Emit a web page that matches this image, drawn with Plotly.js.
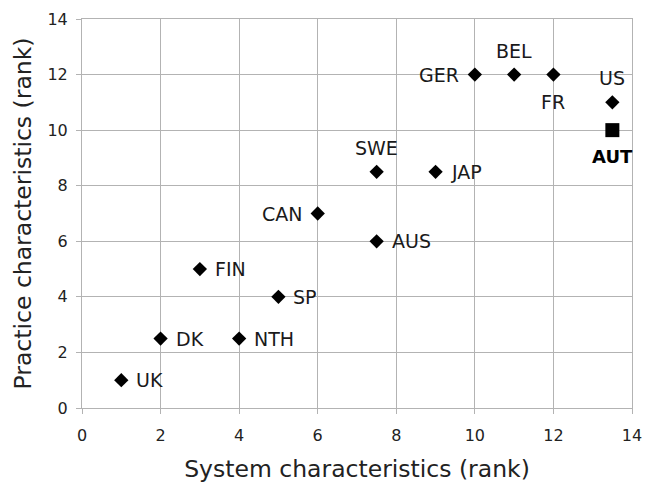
<!DOCTYPE html>
<html><head><meta charset="utf-8">
<script src="https://cdn.plot.ly/plotly-3.0.1.min.js"></script>
<style>html,body{margin:0;padding:0;background:#fff}#c{width:645px;height:484px}</style>
</head><body><div id="c"></div>
<script>
const countries = ["UK","DK","NTH","FIN","SP","CAN","AUS","SWE","JAP","GER","BEL","FR","US"];
const systemRank = [1,2,4,3,5,6,7.5,7.5,9,10,11,12,13.5];
const practiceRank = [1,2.5,2.5,5,4,7,6,8.5,8.5,12,12,12,11];
const labelSide = ["right","right","right","right","right","left","right","top","right","left","top","bottom","top"];
const autName = ["AUT"];
const autSystem = [13.5];
const autPractice = [10];
const autSide = ["bottom"];
const ticks = [0,2,4,6,8,10,12,14];

const font = "DejaVu Sans, Verdana, sans-serif";
const traces = [
  {x: systemRank, y: practiceRank, mode: "markers", type: "scatter",
   marker: {symbol: "diamond", size: 11, color: "#000"}, cliponaxis: false, hoverinfo: "none"},
  {x: autSystem, y: autPractice, mode: "markers", type: "scatter",
   marker: {symbol: "square", size: 14, color: "#000"}, cliponaxis: false, hoverinfo: "none"}
];
function place(side) {
  if (side === "right") return {xanchor: "left", yanchor: "middle", xshift: 13, yshift: 0};
  if (side === "left") return {xanchor: "right", yanchor: "middle", xshift: -14, yshift: 0};
  if (side === "top") return {xanchor: "center", yanchor: "bottom", xshift: 0, yshift: 11};
  return {xanchor: "center", yanchor: "top", xshift: 0, yshift: -14};
}
const annotations = [];
countries.forEach((c, i) => annotations.push(Object.assign({
  x: systemRank[i], y: practiceRank[i], xref: "x", yref: "y", text: c, showarrow: false,
  font: {family: font, size: 19, color: "#1a1a1a"}
}, place(labelSide[i]))));
autName.forEach((c, i) => annotations.push(Object.assign({
  x: autSystem[i], y: autPractice[i], xref: "x", yref: "y", text: "<b>" + c + "</b>", showarrow: false,
  font: {family: font, size: 18, color: "#000"}
}, place(autSide[i]))));

const axisCommon = {
  range: [0, 14], tickvals: ticks, ticktext: ticks.map(String),
  showgrid: true, gridcolor: "#b3b3b3", gridwidth: 1,
  showline: true, linecolor: "#b3b3b3", linewidth: 1, mirror: true,
  ticks: "outside", ticklen: 5, tickcolor: "#b3b3b3",
  zeroline: false, tickfont: {family: font, size: 16, color: "#222"}, fixedrange: true
};
const layout = {
  width: 645, height: 484, showlegend: false,
  margin: {l: 82, r: 13, t: 19, b: 76},
  paper_bgcolor: "#fff", plot_bgcolor: "#fff",
  annotations: annotations,
  xaxis: Object.assign({}, axisCommon, {ticklabelstandoff: 8, title: {text: "System characteristics (rank)", font: {family: font, size: 23.5, color: "#222"}, standoff: 16}}),
  yaxis: Object.assign({}, axisCommon, {ticklabelstandoff: 5, title: {text: "Practice characteristics (rank)", font: {family: font, size: 23.5, color: "#222"}, standoff: 9}})
};
Plotly.newPlot("c", traces, layout, {staticPlot: true});
</script></body></html>
